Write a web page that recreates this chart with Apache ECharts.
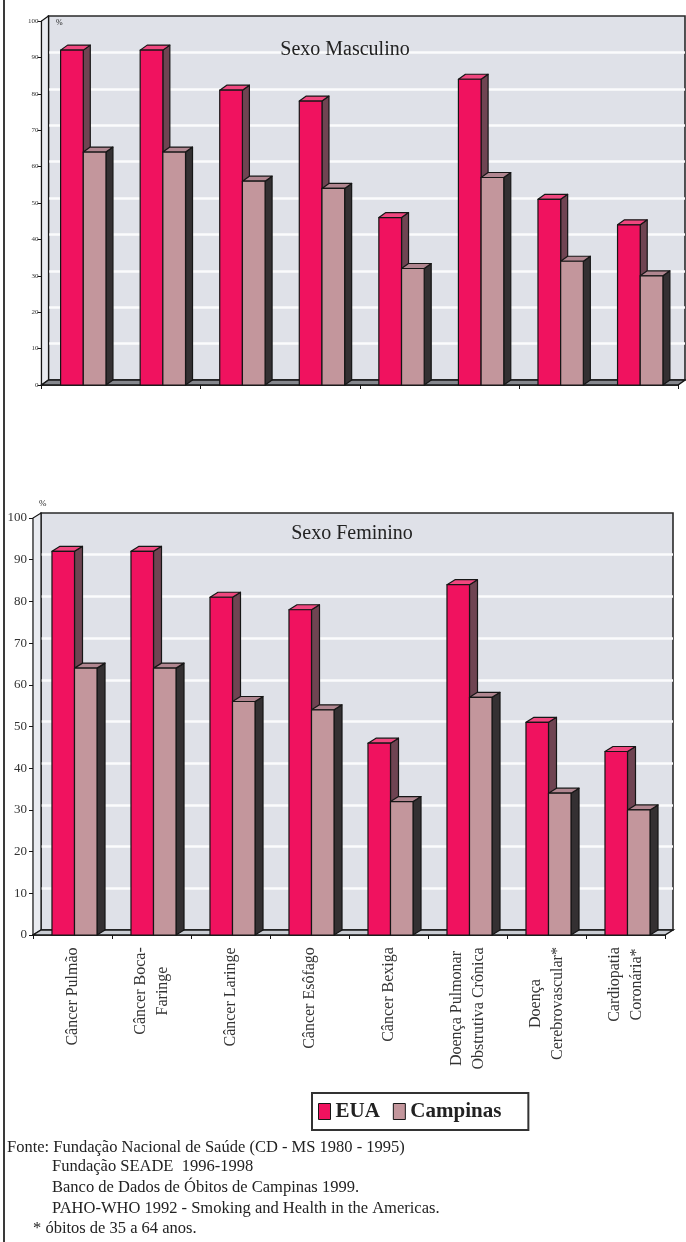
<!DOCTYPE html>
<html>
<head>
<meta charset="utf-8">
<script src="https://cdn.jsdelivr.net/npm/echarts@6/dist/echarts.min.js"></script>
<style>
  html, body { margin: 0; padding: 0; background: #ffffff; }
  #chart { width: 686px; height: 1242px; }
</style>
</head>
<body>
<div id="chart"></div>
<script>
// ---- data ----
const categories = [
  'Câncer Pulmão',
  'Câncer Boca-\nFaringe',
  'Câncer Laringe',
  'Câncer Esôfago',
  'Câncer Bexiga',
  'Doença Pulmonar\nObstrutiva Crônica',
  'Doença\nCerebrovascular*',
  'Cardiopatia\nCoronária*'
];
const seriesNames = ['EUA', 'Campinas'];
const masculinoEUA      = [92, 92, 81, 78, 46, 84, 51, 44];
const masculinoCampinas = [64, 64, 56, 54, 32, 57, 34, 30];
const femininoEUA       = [92, 92, 81, 78, 46, 84, 51, 44];
const femininoCampinas  = [64, 64, 56, 54, 32, 57, 34, 30];
const valueTicks = [0, 10, 20, 30, 40, 50, 60, 70, 80, 90, 100];
const panelTitles = ['Sexo Masculino', 'Sexo Feminino'];
const footnotes = [
  'Fonte: Fundação Nacional de Saúde (CD - MS 1980 - 1995)',
  'Fundação SEADE  1996-1998',
  'Banco de Dados de Óbitos de Campinas 1999.',
  'PAHO-WHO 1992 - Smoking and Health in the Americas.',
  '* óbitos de 35 a 64 anos.'
];

// ---- styling ----
const SERIF = '"Liberation Serif", "DejaVu Serif", serif';
const INK = '#222222';
const EDGE = '#161616';
const WALL = '#dfe1e8';
const LABEL_SIZE = 16;
const BAR_FRACTION = 0.285;   // width of one front face relative to the category band
const BAR_SHIFT = 2;          // small rightward shift of each bar pair
const palette = {
  EUA:      { front: '#f0125f', top: '#f0477f', side: '#6f4452' },
  Campinas: { front: '#c3969c', top: '#b18690', side: '#343032' }
};

const yMin = valueTicks[0];
const yMax = valueTicks[valueTicks.length - 1];
const yStep = valueTicks[1] - valueTicks[0];

const panels = [
  { eua: masculinoEUA, camp: masculinoCampinas, title: panelTitles[0],
    front: { left: 41.5, right: 8, top: 21, bottom: 857 }, depth: [7, 5],
    showCategoryLabels: false, yFont: 7, yMargin: 3, floorFill: '#85878d',
    titlePos: [345, 50], pctPos: [56, 23], pctFont: 8 },
  { eua: femininoEUA, camp: femininoCampinas, title: panelTitles[1],
    front: { left: 33, right: 21, top: 518, bottom: 307 }, depth: [8, 5],
    showCategoryLabels: true, yFont: 13, yMargin: 6, floorFill: '#c9ccd3',
    titlePos: [352, 534], pctPos: [39, 504], pctFont: 9 }
];

// width of the longest line of each category label, so lines centre inside it
const measureCtx = document.createElement('canvas').getContext('2d');
measureCtx.font = LABEL_SIZE + 'px "Liberation Serif"';
const richLabels = {};
categories.forEach((c, i) => {
  const w = Math.max(...c.split('\n').map(l => measureCtx.measureText(l).width));
  richLabels['c' + i] = {
    width: Math.ceil(w) + 2, align: 'center',
    fontFamily: SERIF, fontSize: LABEL_SIZE, lineHeight: 22, color: '#333'
  };
});

const grids = [], xAxes = [], yAxes = [], series = [], graphics = [];

panels.forEach((p, k) => {
  const [dx, dy] = p.depth;
  const wallIdx = grids.length;
  // back wall
  grids.push({
    left: p.front.left + dx, right: p.front.right - dx,
    top: p.front.top - dy, bottom: p.front.bottom + dy,
    show: true, backgroundColor: WALL, borderColor: '#2a2a2a', borderWidth: 1.6
  });
  xAxes.push({ gridIndex: wallIdx, type: 'category', data: categories, show: false });
  yAxes.push({
    gridIndex: wallIdx, type: 'value', min: yMin, max: yMax, interval: yStep,
    axisLine: { show: false }, axisTick: { show: false }, axisLabel: { show: false },
    splitLine: { show: true, showMinLine: false, showMaxLine: false,
                 lineStyle: { color: '#fbfbfd', width: 2.5 } }
  });

  // front plane with the axes and the bars
  const frontIdx = grids.length;
  grids.push({ left: p.front.left, right: p.front.right, top: p.front.top, bottom: p.front.bottom });
  xAxes.push({
    gridIndex: frontIdx, type: 'category', data: categories, boundaryGap: true,
    axisLine: { show: true, lineStyle: { color: EDGE, width: 1.5 } },
    axisTick: { show: true, length: 4, lineStyle: { color: EDGE, width: 1 } },
    axisLabel: p.showCategoryLabels ? {
      show: true, interval: 0, rotate: 90, margin: 11,
      formatter: (val, idx) => val.split('\n').map(l => '{c' + idx + '|' + l + '}').join('\n'),
      rich: richLabels
    } : { show: false },
    splitLine: { show: false }
  });
  yAxes.push({
    gridIndex: frontIdx, type: 'value', min: yMin, max: yMax, interval: yStep,
    axisLine: { show: true, lineStyle: { color: EDGE, width: 1.2 } },
    axisTick: { show: true, length: 4, lineStyle: { color: EDGE } },
    axisLabel: { show: true, fontFamily: SERIF, fontSize: p.yFont, color: '#333', margin: p.yMargin },
    splitLine: { show: false }
  });

  // floor strip and the narrow left side wall
  series.push({
    type: 'custom', name: 'floor' + k, silent: true,
    xAxisIndex: frontIdx, yAxisIndex: frontIdx,
    data: [[0, 0]], encode: { x: 0, y: 1 },
    renderItem: (params, api) => {
      const band = api.size([1, 0])[0];
      const first = api.coord([0, yMin]);
      const last = api.coord([categories.length - 1, yMin]);
      const top = api.coord([0, yMax])[1];
      const xl = first[0] - band / 2, xr = last[0] + band / 2, yb = first[1];
      return {
        type: 'group', children: [
          { type: 'polygon',
            shape: { points: [[xl, yb], [xl, top], [xl + dx, top - dy], [xl + dx, yb - dy]] },
            style: { fill: '#e9ebf0', stroke: EDGE, lineWidth: 1.2 } },
          { type: 'polygon',
            shape: { points: [[xl, yb], [xr, yb], [xr + dx, yb - dy], [xl + dx, yb - dy]] },
            style: { fill: p.floorFill, stroke: EDGE, lineWidth: 1.4 } }
        ]
      };
    }
  });

  // two bar series, EUA on the left of each pair and Campinas on the right
  [[seriesNames[0], p.eua, 0], [seriesNames[1], p.camp, 1]].forEach(([name, values, slot]) => {
    const col = palette[name];
    series.push({
      type: 'custom', name, silent: true,
      xAxisIndex: frontIdx, yAxisIndex: frontIdx,
      itemStyle: { color: col.front },
      data: values.map((v, i) => [i, v]),
      encode: { x: 0, y: 1 },
      renderItem: (params, api) => {
        const i = api.value(0), v = api.value(1);
        const band = api.size([1, 0])[0];
        const w = band * BAR_FRACTION;
        const base = api.coord([i, yMin]);
        const top = api.coord([i, v]);
        const x0 = base[0] + BAR_SHIFT - w + slot * w;
        const x1 = x0 + w, yt = top[1], yb = base[1];
        const line = { stroke: EDGE, lineWidth: 1.2, lineJoin: 'round' };
        return {
          type: 'group', children: [
            { type: 'polygon',
              shape: { points: [[x1, yt], [x1 + dx, yt - dy], [x1 + dx, yb - dy], [x1, yb]] },
              style: Object.assign({ fill: col.side }, line) },
            { type: 'polygon',
              shape: { points: [[x0, yt], [x0 + dx, yt - dy], [x1 + dx, yt - dy], [x1, yt]] },
              style: Object.assign({ fill: col.top }, line) },
            { type: 'rect',
              shape: { x: x0, y: yt, width: w, height: yb - yt },
              style: Object.assign({ fill: col.front }, line) }
          ]
        };
      }
    });
  });

  graphics.push({
    type: 'text', x: p.titlePos[0], y: p.titlePos[1],
    style: { text: p.title, font: '20px ' + SERIF, fill: INK, textAlign: 'center', textVerticalAlign: 'middle' },
    z: 10
  });
  graphics.push({
    type: 'text', x: p.pctPos[0], y: p.pctPos[1],
    style: { text: '%', font: p.pctFont + 'px ' + SERIF, fill: INK, textAlign: 'left', textVerticalAlign: 'middle' },
    z: 10
  });
});

// left frame rule
graphics.push({ type: 'rect', shape: { x: 3, y: 0, width: 2, height: 1242 }, style: { fill: '#3a3a3a' }, z: 10 });

// source notes
const notePos = [[7, 1148], [52, 1167], [52, 1188], [52, 1209], [33, 1229]];
footnotes.forEach((t, i) => {
  graphics.push({
    type: 'text', x: notePos[i][0], y: notePos[i][1],
    style: { text: t, font: '16.5px ' + SERIF, fill: INK, textAlign: 'left', textVerticalAlign: 'middle' },
    z: 10
  });
});

const chart = echarts.init(document.getElementById('chart'), null, { renderer: 'canvas' });
chart.setOption({
  animation: false,
  backgroundColor: '#ffffff',
  grid: grids,
  xAxis: xAxes,
  yAxis: yAxes,
  series: series,
  legend: {
    data: seriesNames,
    left: 312, top: 1093,
    orient: 'horizontal',
    icon: 'rect', itemWidth: 12, itemHeight: 16, itemGap: 13,
    padding: [8, 27, 8, 6],
    borderColor: '#333', borderWidth: 2,
    selectedMode: false,
    itemStyle: { borderColor: EDGE, borderWidth: 1 },
    textStyle: { fontFamily: SERIF, fontWeight: 'bold', fontSize: 21, color: INK }
  },
  graphic: graphics
});
</script>
</body>
</html>
